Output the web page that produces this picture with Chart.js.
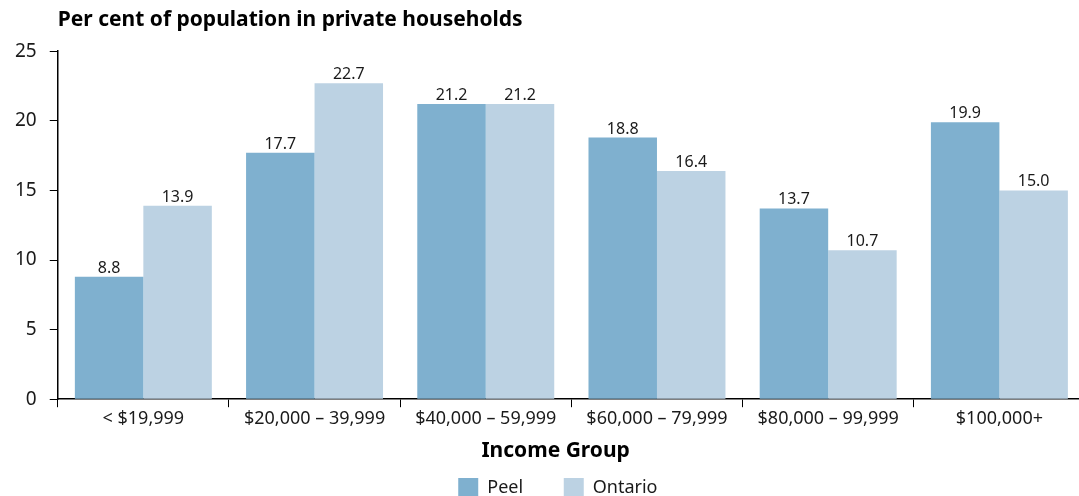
<!DOCTYPE html>
<html lang="en">
<head>
  <meta charset="UTF-8">
  <title>Population by Income Group</title>
  <script src="https://cdn.jsdelivr.net/npm/chart.js"></script>
  <style>
    body {
      margin: 0;
      background: #fff;
      overflow: hidden;
    }

    .wrap {
      width: 1085px;
      height: 508px;
    }
  </style>
</head>
<body>

  <div class="wrap"><canvas id="incomeChart"></canvas></div>

  <script>
    const groups = ['< $19,999', '$20,000 – 39,999', '$40,000 – 59,999', '$60,000 – 79,999', '$80,000 – 99,999', '$100,000+'];
    const peel = [8.8, 17.7, 21.2, 18.8, 13.7, 19.9];
    const ontario = [13.9, 22.7, 21.2, 16.4, 10.7, 15.0];

    const FONT = '"Noto Sans", sans-serif';
    const INK = '#1a1a1a';

    // value written above each bar
    const barValues = {
      id: 'barValues',
      afterDatasetsDraw(chart) {
        const ctx = chart.ctx;
        ctx.save();
        ctx.font = '16px ' + FONT;
        ctx.fillStyle = INK;
        ctx.textAlign = 'center';
        ctx.textBaseline = 'alphabetic';
        chart.data.datasets.forEach((ds, i) => {
          chart.getDatasetMeta(i).data.forEach((bar, j) => {
            ctx.fillText(ds.data[j].toFixed(1), bar.x, bar.y - 4);
          });
        });
        ctx.restore();
      }
    };

    new Chart(document.getElementById('incomeChart'), {
      type: 'bar',
      data: {
        labels: groups,
        datasets: [{
          label: 'Peel',
          data: peel,
          backgroundColor: '#7fb0cf'
        }, {
          label: 'Ontario',
          data: ontario,
          backgroundColor: '#bcd2e3'
        }]
      },
      options: {
        responsive: true,
        maintainAspectRatio: false,
        animation: false,
        categoryPercentage: 0.8,
        barPercentage: 1.0,
        layout: {
          padding: { left: 2, right: 0, top: 0, bottom: 0 }
        },
        scales: {
          x: {
            grid: {
              drawOnChartArea: false,
              tickLength: 8,
              color: '#000'
            },
            border: { color: '#000', width: 1.5 },
            ticks: {
              color: INK,
              font: { family: FONT, size: 18 },
              padding: 1
            },
            title: {
              display: true,
              // trailing spaces nudge the centred title a little left
              text: 'Income Group\u2003\u2002',
              color: '#000',
              font: { family: FONT, size: 21, weight: 'bold' },
              padding: { top: 8, bottom: 14 }
            }
          },
          y: {
            min: 0,
            max: 25,
            ticks: {
              stepSize: 5,
              color: INK,
              font: { family: FONT, size: 19 },
              padding: 13
            },
            grid: {
              drawOnChartArea: false,
              tickLength: 8,
              color: '#000'
            },
            border: { color: '#000', width: 1.5 }
          }
        },
        plugins: {
          title: {
            display: true,
            text: 'Per cent of population in private households',
            align: 'start',
            fullSize: false,
            color: '#000',
            font: { family: FONT, size: 21, weight: 'bold' },
            padding: { top: 7, bottom: 19 }
          },
          legend: {
            position: 'bottom',
            fullSize: false,
            labels: {
              boxWidth: 20,
              boxHeight: 20,
              color: INK,
              font: { family: FONT, size: 18 },
              padding: 0,
              // widen the gap between entries and shift the row left without growing the legend height
              generateLabels(chart) {
                const items = Chart.defaults.plugins.legend.labels.generateLabels(chart);
                items[0].text += '\u2003\u2003 ';
                items[1].text += '\u2003\u2002';
                return items;
              }
            }
          },
          tooltip: { enabled: false }
        }
      },
      plugins: [barValues]
    });
  </script>

</body>
</html>
